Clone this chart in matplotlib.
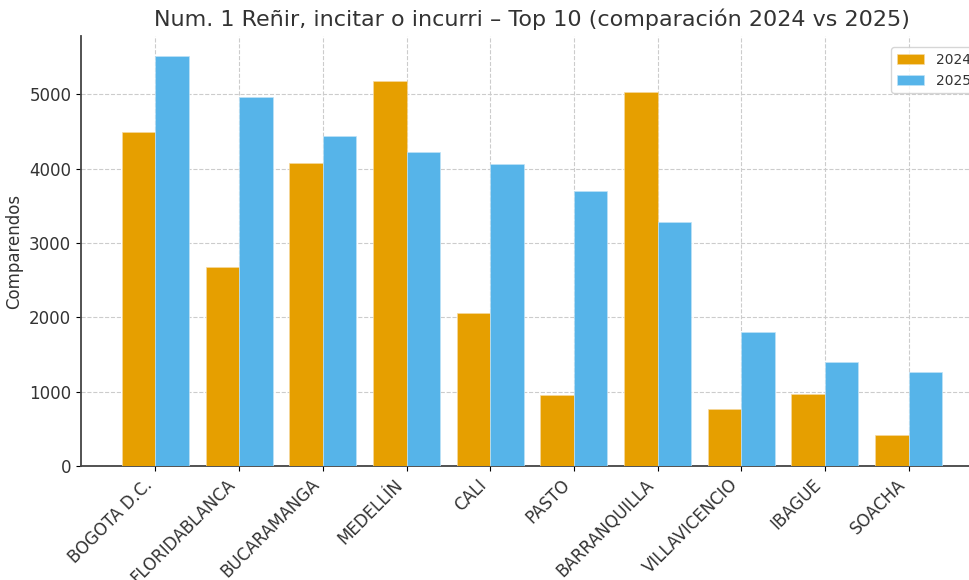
import matplotlib
matplotlib.use('Agg')
from matplotlib import pyplot as plt
import numpy as np

cities = ['BOGOTA D.C.', 'FLORIDABLANCA', 'BUCARAMANGA', 'MEDELLÍN', 'CALI',
          'PASTO', 'BARRANQUILLA', 'VILLAVICENCIO', 'IBAGUE', 'SOACHA']
vals_2024 = [4500, 2675, 4070, 5175, 2055, 955, 5025, 765, 968, 417]
vals_2025 = [5510, 4960, 4435, 4220, 4060, 3695, 3280, 1800, 1398, 1263]

txt = '#333333'
plt.rcParams['font.family'] = 'DejaVu Sans'

fig = plt.figure(figsize=(9.7, 5.8), dpi=100)
ax = fig.add_axes([0.0835, 0.1966, 0.93, 0.7414])

x = np.arange(len(cities))
w = 0.4
ax.bar(x - w/2, vals_2024, w, color='#E69F00', edgecolor='#f5d9a0', linewidth=0.5, label='2024', zorder=3)
ax.bar(x + w/2, vals_2025, w, color='#56B4E9', edgecolor='#bfe3f7', linewidth=0.5, label='2025', zorder=3)

ax.set_xticks(x)
ax.set_xticklabels(cities, rotation=45, ha='right', fontsize=12, color=txt)
ax.tick_params(axis='y', labelsize=12, labelcolor=txt)
ax.set_ylabel('Comparendos', fontsize=12, color=txt)
ax.set_title('Num. 1 Reñir, incitar o incurri – Top 10 (comparación 2024 vs 2025)',
             fontsize=16, color=txt, pad=7)

ax.grid(True, linestyle='--', color='#cccccc', linewidth=0.8, zorder=0)
for s in ['top', 'right']:
    ax.spines[s].set_visible(False)
for s in ['left', 'bottom']:
    ax.spines[s].set_color('#444444')
    ax.spines[s].set_linewidth(1.3)

ax.legend(loc='upper right', fontsize=10, labelcolor=txt, bbox_to_anchor=(1.0, 0.99))

fig.savefig('out.png', dpi=100)
